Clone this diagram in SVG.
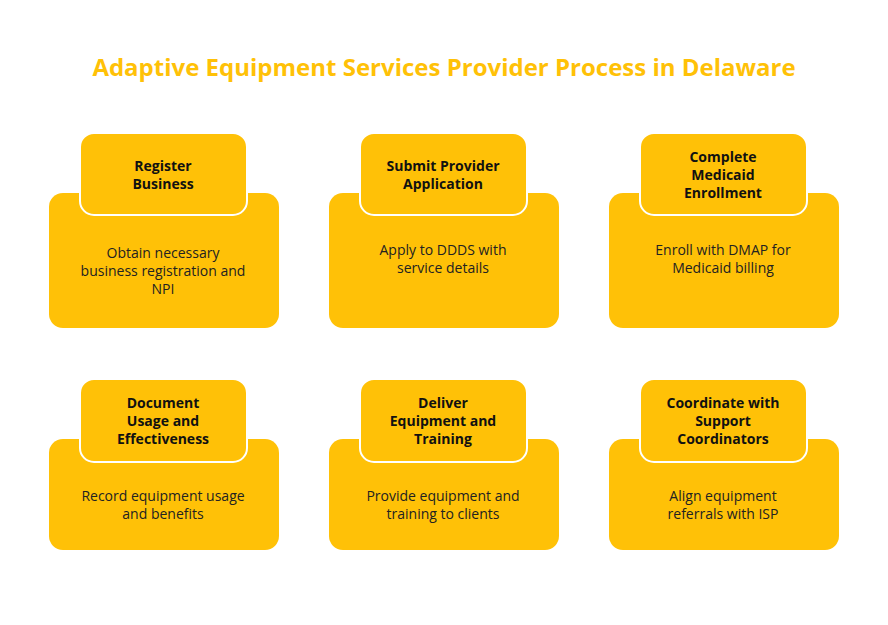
<svg xmlns="http://www.w3.org/2000/svg" width="888" height="625" viewBox="0 0 888 625">
<style>
.card{fill:#FFC107}
.tab{fill:#FFC107;stroke:#fff;stroke-width:2}
.t{font-family:"Open Sans","Liberation Sans",sans-serif;font-size:14px;font-weight:bold;fill:#111;text-anchor:middle}
.d{font-family:"Open Sans","Liberation Sans",sans-serif;font-size:14px;fill:#222;text-anchor:middle}
.title{font-family:"Open Sans","Liberation Sans",sans-serif;font-size:24px;font-weight:bold;fill:#FFC107;text-anchor:middle}
</style>
<rect width="888" height="625" fill="#fff"/>
<text class="title" x="444" y="76">Adaptive Equipment Services Provider Process in Delaware</text>
<g id="connectors"/>
<g id="n1"><rect class="card" x="49" y="193" width="230" height="135" rx="14"/><rect class="tab" x="80" y="133" width="167" height="82" rx="14"/>
<text class="t" x="163" y="171">Register</text><text class="t" x="163" y="189">Business</text>
<text class="d" x="163" y="258">Obtain necessary</text><text class="d" x="163" y="276">business registration and</text><text class="d" x="163" y="294">NPI</text></g>
<g id="n2"><rect class="card" x="329" y="193" width="230" height="135" rx="14"/><rect class="tab" x="360" y="133" width="167" height="82" rx="14"/>
<text class="t" x="443" y="171">Submit Provider</text><text class="t" x="443" y="189">Application</text>
<text class="d" x="443" y="255">Apply to DDDS with</text><text class="d" x="443" y="273">service details</text></g>
<g id="n3"><rect class="card" x="609" y="193" width="230" height="135" rx="14"/><rect class="tab" x="640" y="133" width="167" height="82" rx="14"/>
<text class="t" x="723" y="162">Complete</text><text class="t" x="723" y="180">Medicaid</text><text class="t" x="723" y="198">Enrollment</text>
<text class="d" x="723" y="255">Enroll with DMAP for</text><text class="d" x="723" y="273">Medicaid billing</text></g>
<g id="n4"><rect class="card" x="49" y="439" width="230" height="111" rx="14"/><rect class="tab" x="80" y="379" width="167" height="83" rx="14"/>
<text class="t" x="163" y="408">Document</text><text class="t" x="163" y="426">Usage and</text><text class="t" x="163" y="444">Effectiveness</text>
<text class="d" x="163" y="501">Record equipment usage</text><text class="d" x="163" y="519">and benefits</text></g>
<g id="n5"><rect class="card" x="329" y="439" width="230" height="111" rx="14"/><rect class="tab" x="360" y="379" width="167" height="83" rx="14"/>
<text class="t" x="443" y="408">Deliver</text><text class="t" x="443" y="426">Equipment and</text><text class="t" x="443" y="444">Training</text>
<text class="d" x="443" y="501">Provide equipment and</text><text class="d" x="443" y="519">training to clients</text></g>
<g id="n6"><rect class="card" x="609" y="439" width="230" height="111" rx="14"/><rect class="tab" x="640" y="379" width="167" height="83" rx="14"/>
<text class="t" x="723" y="408">Coordinate with</text><text class="t" x="723" y="426">Support</text><text class="t" x="723" y="444">Coordinators</text>
<text class="d" x="723" y="501">Align equipment</text><text class="d" x="723" y="519">referrals with ISP</text></g>
</svg>
